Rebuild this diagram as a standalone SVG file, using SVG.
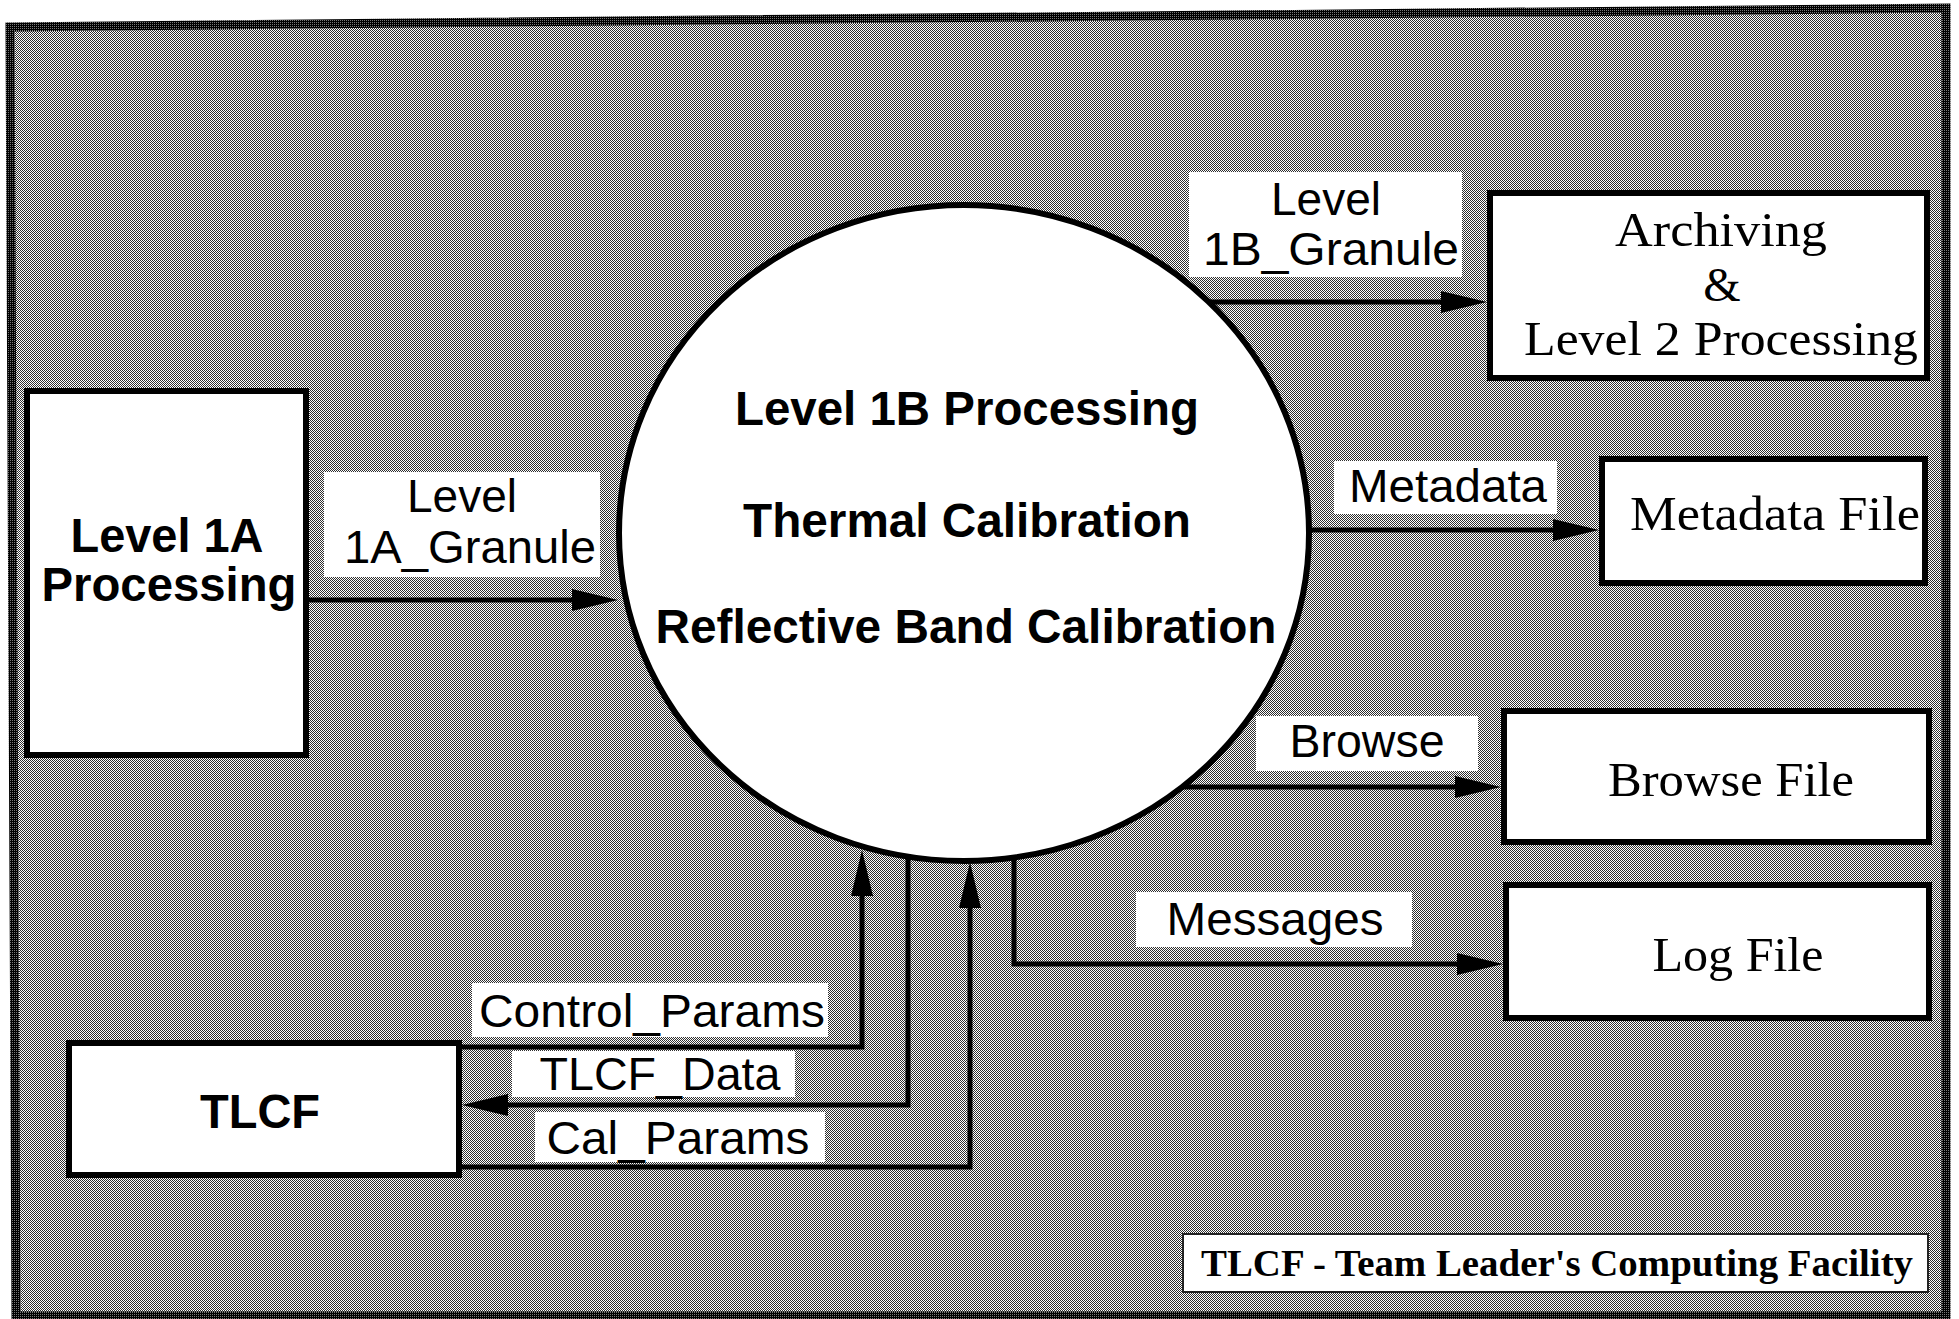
<svg xmlns="http://www.w3.org/2000/svg" width="1959" height="1319" viewBox="0 0 1959 1319">
  <style>
    .node { fill: #fff; stroke: #000; stroke-width: 6; }
    .lbl { fill: #fff; }
    .sans { font-family: "Liberation Sans", Arial, sans-serif; font-size: 46px; fill: #000; text-anchor: middle; }
    .bold { font-family: "Liberation Sans", Arial, sans-serif; font-size: 48px; font-weight: bold; fill: #000; text-anchor: middle; }
    .serif { font-family: "Liberation Serif", "Times New Roman", serif; font-size: 48px; fill: #000; text-anchor: middle; }
    .note { font-family: "Liberation Serif", "Times New Roman", serif; font-size: 38px; font-weight: bold; fill: #000; text-anchor: middle; }
    .flow { fill: none; stroke: #000; stroke-width: 5; marker-end: url(#arrow); }
  </style>
  <defs>
    <!-- halftone screen used for the panel background -->
    <pattern id="dither" width="2" height="2" patternUnits="userSpaceOnUse">
      <rect width="2" height="2" fill="#fff"/>
      <rect width="1" height="1" fill="#2e2e2e"/>
      <rect x="1" y="1" width="1" height="1" fill="#2e2e2e"/>
    </pattern>
    <!-- denser screen for the panel rim -->
    <pattern id="darkdither" width="2" height="2" patternUnits="userSpaceOnUse">
      <rect width="2" height="2" fill="#000"/>
      <rect width="1" height="1" fill="#777"/>
    </pattern>
    <marker id="arrow" markerUnits="userSpaceOnUse" markerWidth="46" markerHeight="24" viewBox="0 0 46 24" refX="26" refY="12" orient="auto">
      <path d="M0,1 L46,12 L0,23 Z" fill="#000"/>
    </marker>
  </defs>

  <rect width="1959" height="1319" fill="#fff"/>

  <!-- shaded panel -->
  <polygon points="10,27 1946,8 1946,1316 16,1316" fill="url(#dither)" stroke="url(#darkdither)" stroke-width="9"/>

  <!-- connectors with their flow labels -->
  <g id="connectors">
    <g id="flow-l1a-granule">
      <path class="flow" d="M309,600 H598"/>
      <rect class="lbl" x="324" y="472" width="276" height="105"/>
      <text class="sans" x="462" y="512">Level</text>
      <text class="sans" x="470" y="563" textLength="252" lengthAdjust="spacingAndGlyphs">1A_Granule</text>
    </g>
    <g id="flow-l1b-granule">
      <path class="flow" d="M1210,302 H1467"/>
      <rect class="lbl" x="1189" y="172" width="273" height="105"/>
      <text class="sans" x="1326" y="215">Level</text>
      <text class="sans" x="1331" y="265" textLength="256" lengthAdjust="spacingAndGlyphs">1B_Granule</text>
    </g>
    <g id="flow-metadata">
      <path class="flow" d="M1309,530 H1579"/>
      <rect class="lbl" x="1334" y="461" width="223" height="53"/>
      <text class="sans" x="1448" y="502" textLength="198" lengthAdjust="spacingAndGlyphs">Metadata</text>
    </g>
    <g id="flow-browse">
      <path class="flow" d="M1181,787 H1481"/>
      <rect class="lbl" x="1256" y="716" width="222" height="55"/>
      <text class="sans" x="1367" y="757" textLength="155" lengthAdjust="spacingAndGlyphs">Browse</text>
    </g>
    <g id="flow-messages">
      <path class="flow" d="M1014,855 V964 H1483"/>
      <rect class="lbl" x="1136" y="892" width="276" height="55"/>
      <text class="sans" x="1275" y="935" textLength="217" lengthAdjust="spacingAndGlyphs">Messages</text>
    </g>
    <g id="flow-control-params">
      <path class="flow" d="M462,1047 H862 V870"/>
      <rect class="lbl" x="472" y="983" width="356" height="54"/>
      <text class="sans" x="652" y="1027" textLength="346" lengthAdjust="spacingAndGlyphs">Control_Params</text>
    </g>
    <g id="flow-tlcf-data">
      <path class="flow" d="M908,855 V1105 H482"/>
      <rect class="lbl" x="512" y="1051" width="283" height="46"/>
      <text class="sans" x="660" y="1090" textLength="241" lengthAdjust="spacingAndGlyphs">TLCF_Data</text>
    </g>
    <g id="flow-cal-params">
      <path class="flow" d="M462,1167 H970 V882"/>
      <rect class="lbl" x="535" y="1112" width="290" height="50"/>
      <text class="sans" x="678" y="1154" textLength="263" lengthAdjust="spacingAndGlyphs">Cal_Params</text>
    </g>
  </g>

  <!-- external entities, process and stores -->
  <g id="level-1a-processing">
    <rect class="node" x="27" y="391" width="279" height="364"/>
    <text class="bold" x="167" y="552" textLength="193" lengthAdjust="spacingAndGlyphs">Level 1A</text>
    <text class="bold" x="169" y="601" textLength="255" lengthAdjust="spacingAndGlyphs">Processing</text>
  </g>

  <g id="level-1b-processing">
    <ellipse class="node" cx="964" cy="533" rx="345" ry="328"/>
    <text class="bold" x="967" y="425" textLength="464" lengthAdjust="spacingAndGlyphs">Level 1B Processing</text>
    <text class="bold" x="967" y="537" textLength="448" lengthAdjust="spacingAndGlyphs">Thermal Calibration</text>
    <text class="bold" x="966" y="643" textLength="621" lengthAdjust="spacingAndGlyphs">Reflective Band Calibration</text>
  </g>

  <g id="archiving">
    <rect class="node" x="1490" y="193" width="437" height="185"/>
    <text class="serif" x="1721" y="246" textLength="212" lengthAdjust="spacingAndGlyphs">Archiving</text>
    <text class="serif" x="1722" y="301">&amp;</text>
    <text class="serif" x="1721" y="355" textLength="394" lengthAdjust="spacingAndGlyphs">Level 2 Processing</text>
  </g>

  <g id="metadata-file">
    <rect class="node" x="1602" y="459" width="323" height="124"/>
    <text class="serif" x="1775" y="530" textLength="290" lengthAdjust="spacingAndGlyphs">Metadata File</text>
  </g>

  <g id="browse-file">
    <rect class="node" x="1504" y="711" width="425" height="131"/>
    <text class="serif" x="1731" y="796" textLength="246" lengthAdjust="spacingAndGlyphs">Browse File</text>
  </g>

  <g id="log-file">
    <rect class="node" x="1506" y="885" width="423" height="133"/>
    <text class="serif" x="1738" y="971" textLength="171" lengthAdjust="spacingAndGlyphs">Log File</text>
  </g>

  <g id="tlcf">
    <rect class="node" x="69" y="1043" width="390" height="132"/>
    <text class="bold" x="260" y="1128" textLength="120" lengthAdjust="spacingAndGlyphs">TLCF</text>
  </g>

  <!-- abbreviation note -->
  <g id="legend">
    <rect x="1183" y="1234" width="745" height="58" fill="#fff" stroke="#222" stroke-width="2"/>
    <text class="note" x="1557" y="1276" textLength="712" lengthAdjust="spacingAndGlyphs">TLCF - Team Leader's Computing Facility</text>
  </g>
</svg>
